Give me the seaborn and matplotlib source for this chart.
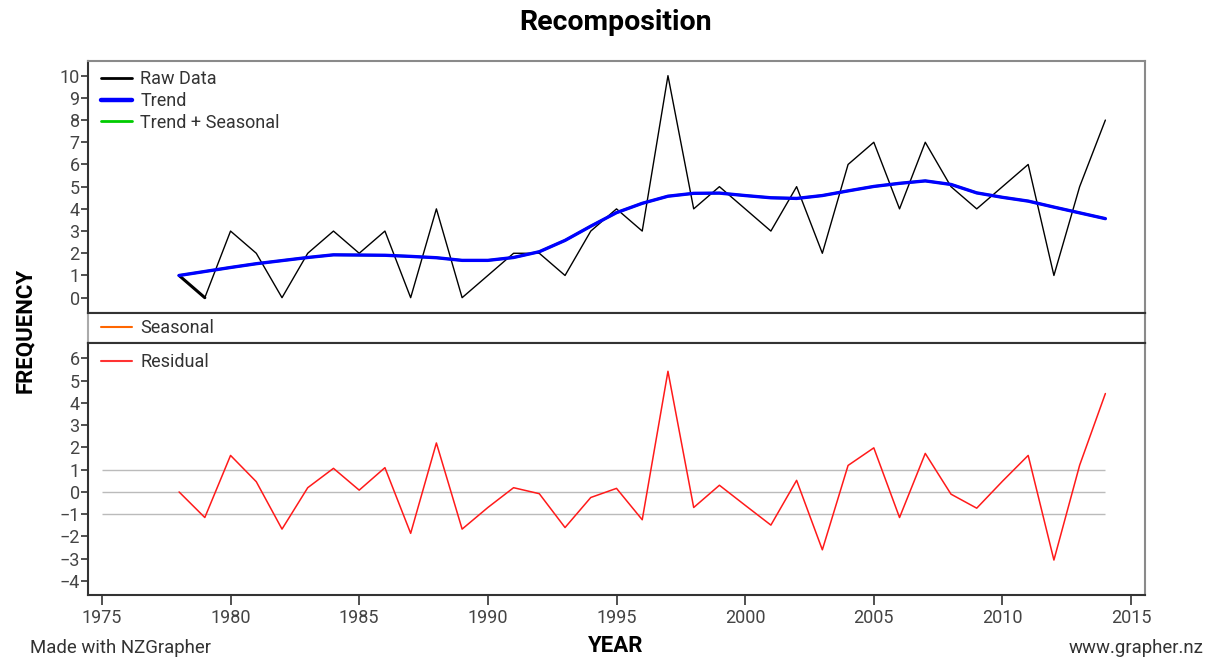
import matplotlib
matplotlib.use("Agg")
import matplotlib.pyplot as plt
import seaborn as sns
import numpy as np
import pandas as pd
from matplotlib.lines import Line2D

years = list(range(1978, 2015))
raw = [1, 0, 3, 2, 0, 2, 3, 2, 3, 0, 4, 0, 1, 2, 2, 1, 3, 4, 3, 10,
       4, 5, 4, 3, 5, 2, 6, 7, 4, 7, 5, 4, 5, 6, 1, 5, 8]
trend = [1.0, 1.18, 1.36, 1.53, 1.67, 1.81, 1.93, 1.92, 1.91, 1.86, 1.8, 1.68,
         1.68, 1.81, 2.07, 2.58, 3.22, 3.83, 4.25, 4.57, 4.7, 4.71, 4.6, 4.5,
         4.47, 4.6, 4.81, 5.01, 5.15, 5.26, 5.1, 4.72, 4.52, 4.35, 4.08, 3.82, 3.56]
seasonal = [0.0] * len(years)
residual = [0.0, -1.15, 1.64, 0.46, -1.67, 0.19, 1.06, 0.08, 1.09, -1.86, 2.2,
            -1.67, -0.7, 0.19, -0.08, -1.6, -0.25, 0.16, -1.25, 5.42, -0.7, 0.3,
            -0.6, -1.49, 0.52, -2.6, 1.19, 1.98, -1.15, 1.73, -0.1, -0.73, 0.48,
            1.64, -3.06, 1.2, 4.42]
ref_lines = [-1, 0, 1]
top_ticks = list(range(0, 11))
bottom_ticks = list(range(-4, 7))
x_ticks = [1975, 1980, 1985, 1990, 1995, 2000, 2005, 2010, 2015]

df = pd.DataFrame({"year": years, "raw": raw, "trend": trend,
                   "seasonal": seasonal, "residual": residual})
df["trend_seasonal"] = df["trend"] + df["seasonal"]

sns.set_style("white")
plt.rcParams["font.family"] = ["Roboto", "DejaVu Sans"]

W, H = 1211, 659
fig = plt.figure(figsize=(W / 100, H / 100), dpi=100)

def fx(px):
    return px / W

def fy(py):
    return 1 - py / H

left, right = 88, 1145
ax_top = fig.add_axes([fx(left), fy(313), fx(right - left), (313 - 61) / H])
ax_mid = fig.add_axes([fx(left), fy(343), fx(right - left), 30 / H])
ax_bot = fig.add_axes([fx(left), fy(595), fx(right - left), (595 - 343) / H])

xlim = (1974.46, 2015.54)
tick_col = "#444444"
dark = "#333333"
light = "#8a8a8a"
FS = 13

leg_kw = dict(frameon=False, fontsize=FS, handlelength=1.75, handletextpad=0.45,
              labelspacing=0.22, borderaxespad=0.3, labelcolor="#333333")

# ---- top panel
sns.lineplot(data=df, x="year", y="raw", ax=ax_top, color="black", lw=1.0,
             legend=False)
sns.lineplot(x=df["year"][:2], y=df["raw"][:2], ax=ax_top, color="black", lw=2.2)
sns.lineplot(data=df, x="year", y="trend_seasonal", ax=ax_top, color="#00cc00",
             lw=1.8, legend=False)
sns.lineplot(data=df, x="year", y="trend", ax=ax_top, color="#0000ff", lw=2.4,
             legend=False)
handles = [Line2D([], [], color="black", lw=2),
           Line2D([], [], color="#0000ff", lw=3.2),
           Line2D([], [], color="#00cc00", lw=2)]
ax_top.legend(handles, ["Raw Data", "Trend", "Trend + Seasonal"], loc="upper left",
              bbox_to_anchor=(0.0, 1.015), **leg_kw)
ax_top.set_xlim(*xlim)
ax_top.set_ylim(-0.69, 10.66)
ax_top.set_yticks(top_ticks)
ax_top.set_xticks([])

# ---- middle strip (seasonal)
ax_mid.set_xlim(*xlim)
ax_mid.set_ylim(-1, 1)
ax_mid.set_xticks([])
ax_mid.set_yticks([])
ax_mid.legend([Line2D([], [], color="#ff6600", lw=1.5)], ["Seasonal"],
              loc="center left", bbox_to_anchor=(0.0, 0.5), **leg_kw)

# ---- bottom panel
ax_bot.hlines(ref_lines, 1975, 2014, color="#bbbbbb", lw=1.0, zorder=1)
sns.lineplot(data=df, x="year", y="residual", ax=ax_bot, color="#ff1a1a", lw=1.1,
             legend=False, zorder=3)
ax_bot.legend([Line2D([], [], color="#ff3333", lw=1.5)], ["Residual"],
              loc="upper left", bbox_to_anchor=(0.0, 1.01), **leg_kw)
ax_bot.set_xlim(*xlim)
ax_bot.set_ylim(-4.63, 6.69)
ax_bot.set_yticks(bottom_ticks)
ax_bot.set_xticks(x_ticks)

for ax in (ax_top, ax_mid, ax_bot):
    ax.set_xlabel("")
    ax.set_ylabel("")
    for s in ("top", "right"):
        ax.spines[s].set_color(light)
        ax.spines[s].set_linewidth(1.5)
    for s in ("left", "bottom"):
        ax.spines[s].set_color(dark)
        ax.spines[s].set_linewidth(1.5)
    ax.tick_params(axis="both", direction="out", length=5, width=1.2,
                   color=dark, labelsize=FS, labelcolor=tick_col, pad=1,
                   left=True, bottom=True)
ax_mid.spines["left"].set_color("#aaaaaa")
ax_mid.spines["top"].set_color(dark)
ax_mid.spines["bottom"].set_color(dark)
ax_top.spines["bottom"].set_color(dark)
ax_bot.spines["top"].set_color(dark)
ax_bot.tick_params(axis="x", length=7, pad=3)
ax_top.tick_params(axis="x", bottom=False)
ax_mid.tick_params(left=False, bottom=False)

fig.text(fx(616), fy(22), "Recomposition", ha="center", va="center",
         fontsize=20.5, fontweight="bold", color="black")
fig.text(fx(616), fy(646), "YEAR", ha="center", va="center",
         fontsize=16, fontweight="bold", color="black")
fig.text(fx(25), fy(330), "FREQUENCY", ha="center", va="center", rotation=90,
         fontsize=16, fontweight="bold", color="black")
fig.text(fx(30), fy(648), "Made with NZGrapher", ha="left", va="center",
         fontsize=13.4, color="#333333")
fig.text(fx(1203), fy(648), "www.grapher.nz", ha="right", va="center",
         fontsize=13.4, color="#333333")

fig.savefig("out.png", dpi=100, facecolor="white")
